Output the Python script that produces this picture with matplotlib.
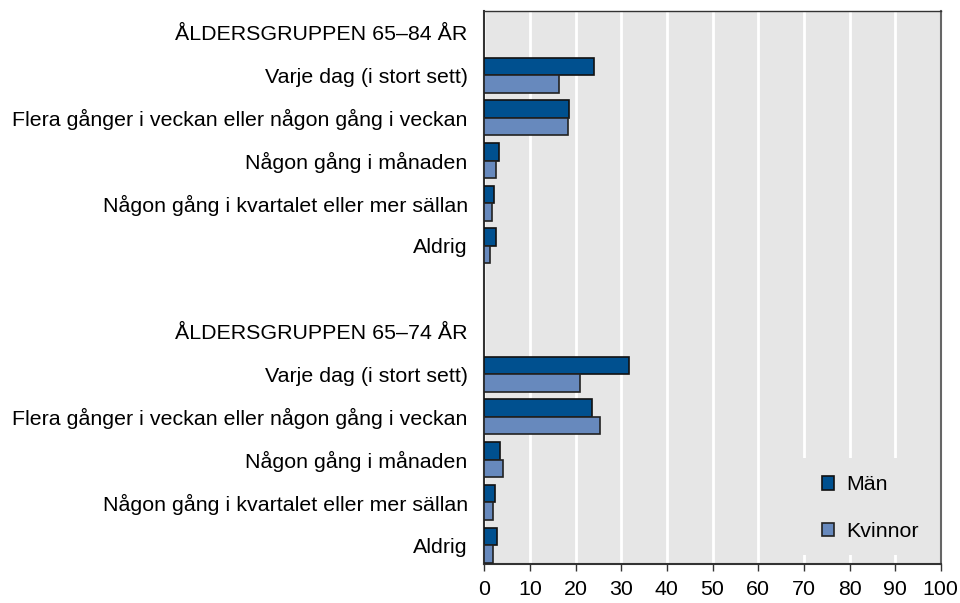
import matplotlib.pyplot as plt
from matplotlib.patches import Rectangle
import numpy as np

plt.rcParams['font.family'] = ['Liberation Sans', 'DejaVu Sans']

rubriker = ["ÅLDERSGRUPPEN 65–84 ÅR", "ÅLDERSGRUPPEN 65–74 ÅR"]
kategorier = ["Varje dag (i stort sett)",
              "Flera gånger i veckan eller någon gång i veckan",
              "Någon gång i månaden",
              "Någon gång i kvartalet eller mer sällan",
              "Aldrig"]
man_65_84 = [24.1, 18.6, 3.2, 2.1, 2.6]
kvinnor_65_84 = [16.3, 18.4, 2.6, 1.6, 1.3]
man_65_74 = [31.8, 23.6, 3.4, 2.3, 2.7]
kvinnor_65_74 = [21.0, 25.3, 4.0, 2.0, 2.0]

farg_man = "#00508f"
farg_kvinnor = "#6789bd"
bakgrund = "#e6e6e6"

# rader: rubrik, 5 kategorier, tom rad, rubrik, 5 kategorier
rad1 = np.arange(1, 6)
rad2 = np.arange(8, 13)
h = 0.41

fig = plt.figure(figsize=(9.6, 6.03), dpi=100)
ax = fig.add_axes([0.5045, 0.0642, 0.4755, 0.9176])
ax.set_facecolor(bakgrund)

for rader, m, k in [(rad1, man_65_84, kvinnor_65_84), (rad2, man_65_74, kvinnor_65_74)]:
    ax.barh(rader - h / 2, m, height=h, color=farg_man, edgecolor="#111111",
            linewidth=1.2, zorder=3, label="Män" if rader[0] == 1 else None)
    ax.barh(rader + h / 2, k, height=h, color=farg_kvinnor, edgecolor="#222222",
            linewidth=1.2, zorder=3, label="Kvinnor" if rader[0] == 1 else None)

ax.set_xlim(0, 100)
ax.set_ylim(12.45, -0.5)
ax.set_xticks(range(0, 101, 10))
ax.set_yticks([0] + list(rad1) + [7] + list(rad2))
ax.set_yticklabels([rubriker[0]] + kategorier + [rubriker[1]] + kategorier)
ax.tick_params(axis="y", length=0, pad=12, labelsize=15.4)
ax.tick_params(axis="x", length=5, width=1, color="#333333", pad=6.5, labelsize=15.4)
ax.grid(axis="x", color="white", linewidth=2)
ax.set_axisbelow(True)

for side in ["left", "bottom"]:
    ax.spines[side].set_color("#333333")
    ax.spines[side].set_linewidth(1.5)
ax.spines["top"].set_color("#333333")
ax.spines["top"].set_linewidth(1)
ax.spines["right"].set_color("#666666")
ax.spines["right"].set_linewidth(1.5)

# bakgrund bakom förklaringen döljer rutnätet
ax.add_patch(Rectangle((0.698, 0.017), 0.2954, 0.175, transform=ax.transAxes,
                       facecolor=bakgrund, edgecolor="none", zorder=1))
ax.legend(loc="center left", bbox_to_anchor=(0.7388, 0.1012), borderaxespad=0,
          frameon=False, fontsize=15.4, handlelength=0.6, handleheight=0.6,
          handletextpad=0.55, labelspacing=1.3, borderpad=0)

fig.savefig("out.png", dpi=100)
